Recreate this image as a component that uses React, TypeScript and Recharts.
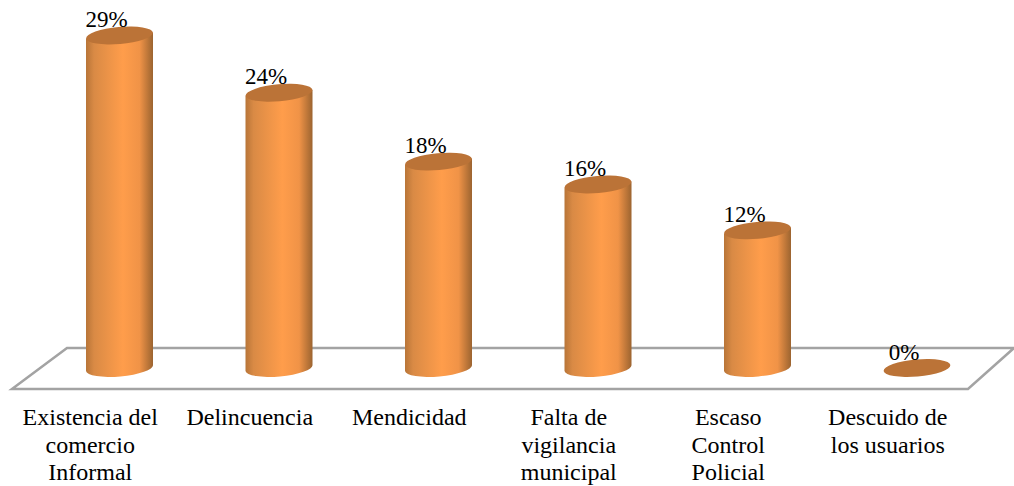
import React from "react";
import { BarChart, Bar, XAxis, YAxis, LabelList, usePlotArea } from "recharts";

const categories = [
  "Existencia del comercio Informal",
  "Delincuencia",
  "Mendicidad",
  "Falta de vigilancia municipal",
  "Escaso Control Policial",
  "Descuido de los usuarios",
];
const tickLines = [
  ["Existencia del", "comercio", "Informal"],
  ["Delincuencia"],
  ["Mendicidad"],
  ["Falta de", "vigilancia", "municipal"],
  ["Escaso", "Control", "Policial"],
  ["Descuido de", "los usuarios"],
];
const values = [29, 24, 18, 16, 12, 0];
const data = categories.map((name, i) => ({ name, value: values[i] }));

const FONT = "'Liberation Serif', 'Times New Roman', serif";
const TILT = -5;

function Floor() {
  const area = usePlotArea();
  if (!area) return null;
  const { x, y, width, height } = area;
  const bottom = y + height;
  const right = x + width;
  const d = `M${right + 17},${bottom - 20} L${x + 27},${bottom - 20} L${x - 28},${bottom + 21} L${right - 29},${bottom + 21} L${right + 17},${bottom - 20}`;
  return <path d={d} fill="none" stroke="#a3a3a3" strokeWidth={2.5} />;
}

function Cylinder(props: any) {
  const { x, y, width, height } = props;
  const rx = width / 2;
  const ry = 8.5;
  const cx = x + rx;
  const dy = 3;
  const yBase = y + height;
  const body = `M${x},${y + dy} L${x},${yBase + dy} A${rx},${ry} ${TILT} 0 0 ${x + width},${yBase - dy} L${x + width},${y - dy} Z`;
  return (
    <g>
      {height > 0 && <path d={body} fill="url(#cyl)" />}
      <ellipse cx={cx} cy={y} rx={rx} ry={ry} fill="#bb7337" transform={`rotate(${TILT} ${cx} ${y})`} />
    </g>
  );
}

function Tick(props: any) {
  const { x, payload } = props;
  const lines = tickLines[payload.index] || [];
  return (
    <text textAnchor="middle" fontFamily={FONT} fontSize={24} fill="#000">
      {lines.map((l: string, i: number) => (
        <tspan key={i} x={x - 29.5} y={425 + i * 27.5}>{l}</tspan>
      ))}
    </text>
  );
}

function PctLabel(props: any) {
  const { x, y, width, value } = props;
  return (
    <text x={x + width / 2 - 13} y={y - 8.5} textAnchor="middle" fontFamily={FONT} fontSize={23} fill="#000">
      {value}%
    </text>
  );
}

export default function App() {
  return (
    <div style={{ position: "absolute", left: 0, top: 0, width: 1014, height: 486, background: "#fff", overflow: "hidden" }}>
      <BarChart
        width={1014}
        height={486}
        data={data}
        barCategoryGap={0}
        margin={{ top: 24, right: 17, bottom: 0, left: 40 }}
      >
        <defs>
          <linearGradient id="cyl" x1="0" y1="0" x2="1" y2="0">
            <stop offset="0" stopColor="#b87538" />
            <stop offset="0.12" stopColor="#d98a45" />
            <stop offset="0.55" stopColor="#ff9d4b" />
            <stop offset="0.8" stopColor="#f09347" />
            <stop offset="1" stopColor="#9c6430" />
          </linearGradient>
        </defs>
        <Floor />
        <XAxis dataKey="name" axisLine={false} tickLine={false} interval={0} height={118} tick={<Tick />} />
        <YAxis hide domain={[0, 30]} />
        <Bar dataKey="value" barSize={67} isAnimationActive={false} shape={<Cylinder />}>
          <LabelList dataKey="value" content={<PctLabel />} />
        </Bar>
      </BarChart>
    </div>
  );
}
